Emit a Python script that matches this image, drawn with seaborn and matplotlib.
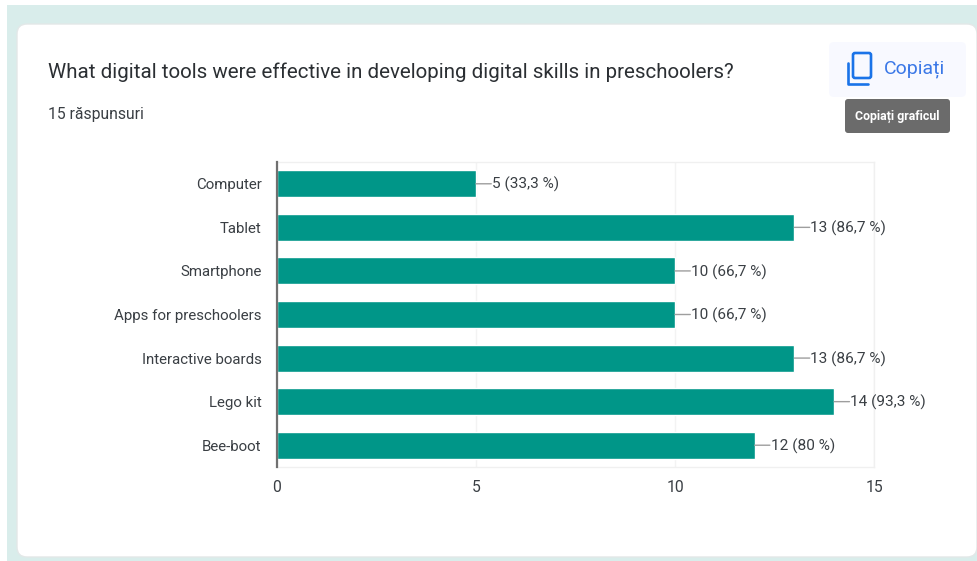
import matplotlib
matplotlib.use("Agg")
import matplotlib.pyplot as plt
from matplotlib.patches import FancyBboxPatch, Rectangle
import pandas as pd
import seaborn as sns

# Survey results
tools = ["Computer", "Tablet", "Smartphone", "Apps for preschoolers",
         "Interactive boards", "Lego kit", "Bee-boot"]
counts = [5, 13, 10, 10, 13, 14, 12]
shares = ["33,3 %", "86,7 %", "66,7 %", "66,7 %", "86,7 %", "93,3 %", "80 %"]
x_ticks = [0, 5, 10, 15]

title = "What digital tools were effective in developing digital skills in preschoolers?"
subtitle = "15 răspunsuri"

W, H = 978, 561
TEAL = "#009688"
INK = "#3a3f44"

sns.set_theme(style="white")
plt.rcParams["font.family"] = ["Roboto", "DejaVu Sans"]

fig = plt.figure(figsize=(W / 100, H / 100), dpi=100, facecolor="white")

# Page layer in pixel coordinates: backdrop, card, button and tooltip
page = fig.add_axes([0, 0, 1, 1], zorder=0)
page.set_xlim(0, W)
page.set_ylim(H, 0)
page.axis("off")


def rounded(ax, x0, y0, x1, y1, r, **kw):
    box = FancyBboxPatch((x0 + r, y0 + r), x1 - x0 - 2 * r, y1 - y0 - 2 * r,
                         boxstyle=f"round,pad={r},rounding_size={r}", **kw)
    ax.add_patch(box)


page.add_patch(Rectangle((7, 5), W - 7, H - 5, fc="#d9edeb", ec="none"))
rounded(page, 17, 24, 977, 557, 10, fc="white", ec="#e3e8e8", lw=1)
rounded(page, 829, 42, 966, 97, 5, fc="#f8f9ff", ec="none")
rounded(page, 845, 99, 950, 133, 3, fc="#6b6b6b", ec="none")

# Copy icon
rounded(page, 853, 53, 871, 78, 2, fc="none", ec="#1a73e8", lw=1.9)
page.plot([848, 848, 868], [63, 84, 84], color="#1a73e8", lw=1.9,
          solid_joinstyle="round", solid_capstyle="round")

page.text(48, 72, title, fontsize=14.75, color="#2b2f33", va="center", ha="left")
page.text(48, 114, subtitle, fontsize=11.3, color=INK, va="center", ha="left")
page.text(884, 69, "Copiați", fontsize=14, color="#3b78e7", va="center", ha="left")
page.text(897.5, 116, "Copiați graficul", fontsize=8.9, color="white",
          fontweight="bold", va="center", ha="center")

# Chart layer
ax = fig.add_axes([277 / W, 1 - 467 / H, (874 - 277) / W, (467 - 162) / H], zorder=1)
ax.patch.set_alpha(0)
df = pd.DataFrame({"tool": tools, "count": counts})
sns.barplot(data=df, y="tool", x="count", color=TEAL, saturation=1, width=0.62,
            orient="h", ax=ax, zorder=3)

ax.set_xlim(0, x_ticks[-1])
ax.set_xticks(x_ticks)
ax.set_xlabel("")
ax.set_ylabel("")
ax.grid(axis="x", color="#f3f3f3", lw=1)
ax.set_axisbelow(True)
for side in ("top", "right", "bottom"):
    ax.spines[side].set_color("#f0f0f0")
    ax.spines[side].set_linewidth(1)
ax.spines["left"].set_color("#707070")
ax.spines["left"].set_linewidth(1.6)
ax.spines["left"].set_zorder(5)
ax.tick_params(axis="y", length=0, labelsize=10.8, labelcolor=INK, pad=11)
ax.tick_params(axis="x", length=0, labelsize=11.3, labelcolor=INK, pad=9.5)

# Value labels with a short leader line from each bar end
for i, (n, share) in enumerate(zip(counts, shares)):
    ax.annotate("", xy=(n, i), xytext=(11, 0), textcoords="offset points",
                arrowprops=dict(arrowstyle="-", color="#9e9e9e", lw=1,
                                shrinkA=0, shrinkB=0), zorder=4)
    ax.annotate(f"{n} ({share})", xy=(n, i), xytext=(11.5, -0.7),
                textcoords="offset points", fontsize=11.1, color=INK,
                va="center", ha="left", zorder=4)

fig.savefig("out.png", dpi=100)
